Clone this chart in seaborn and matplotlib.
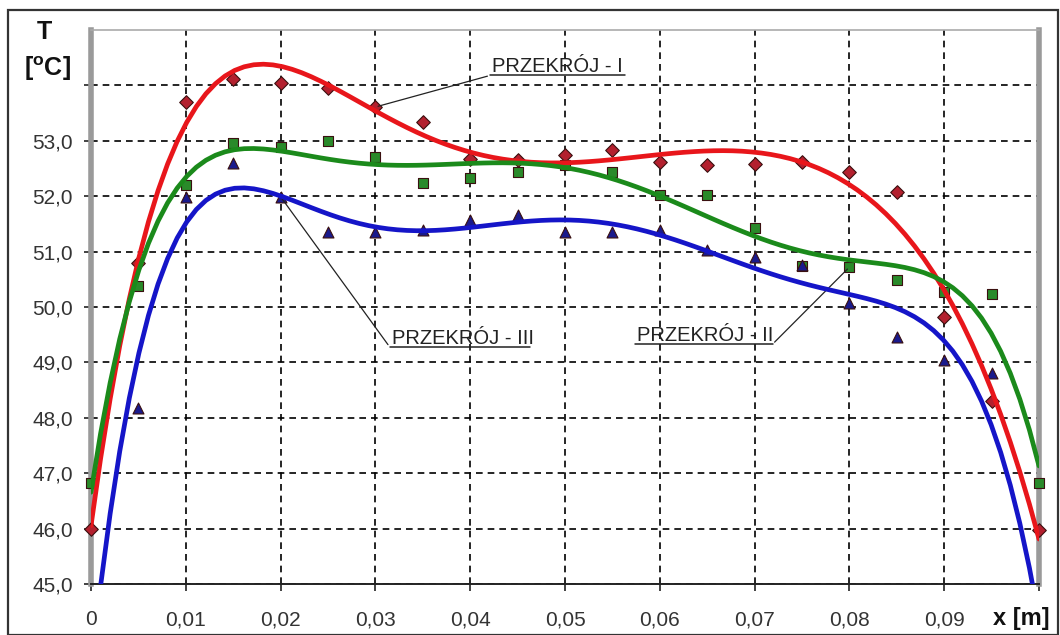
import matplotlib
matplotlib.use("Agg")
import matplotlib.pyplot as plt
from matplotlib.patches import Rectangle
import seaborn as sns
import pandas as pd

x_m = [0.0, 0.005, 0.01, 0.015, 0.02, 0.025, 0.03, 0.035, 0.04, 0.045, 0.05,
       0.055, 0.06, 0.065, 0.07, 0.075, 0.08, 0.085, 0.09, 0.095, 0.1]

t_przekroj_1 = [46.0, 50.8, 53.7, 54.12, 54.04, 53.95, 53.61, 53.34, 52.67, 52.65, 52.74,
                52.83, 52.62, 52.56, 52.58, 52.62, 52.44, 52.08, 49.82, 48.3, 45.97]
t_przekroj_2 = [46.82, 50.38, 52.2, 52.96, 52.89, 53.0, 52.71, 52.24, 52.33, 52.44, 52.56,
                52.44, 52.02, 52.02, 51.43, 50.74, 50.72, 50.49, 50.27, 50.24, 46.82]
t_przekroj_3 = [43.8, 48.18, 51.98, 52.6, 51.99, 51.35, 51.35, 51.39, 51.57, 51.66, 51.35,
                51.35, 51.39, 51.03, 50.9, 50.76, 50.07, 49.46, 49.05, 48.8, 44.0]

x_ticks = [0.0, 0.01, 0.02, 0.03, 0.04, 0.05, 0.06, 0.07, 0.08, 0.09]
x_tick_labels = ["0", "0,01", "0,02", "0,03", "0,04", "0,05", "0,06", "0,07", "0,08", "0,09"]
y_ticks = [45, 46, 47, 48, 49, 50, 51, 52, 53]
y_tick_labels = ["45,0", "46,0", "47,0", "48,0", "49,0", "50,0", "51,0", "52,0", "53,0"]

series = [
    ("PRZEKRÓJ - I", t_przekroj_1, "#e8161b", "#b3202e", "D", 48),
    ("PRZEKRÓJ - II", t_przekroj_2, "#1b8a1b", "#2a8a2a", "s", 58),
    ("PRZEKRÓJ - III", t_przekroj_3, "#1515c8", "#1a1a8c", "^", 62),
]

sns.set_style("white")
plt.rcParams["font.family"] = ["Liberation Sans", "DejaVu Sans"]
plt.rcParams["mathtext.fontset"] = "custom"
plt.rcParams["mathtext.rm"] = "Liberation Sans"
plt.rcParams["mathtext.bf"] = "Liberation Sans:bold"

fig = plt.figure(figsize=(10.6, 6.35), dpi=100)
ax = fig.add_axes([91 / 1060, 51 / 635, 948 / 1060, 554 / 635])

for name, vals, line_c, mark_c, mk, size in series:
    df = pd.DataFrame({"x": x_m, "T": vals})
    shown = df[df["T"] >= 45]
    sns.scatterplot(data=shown, x="x", y="T", marker=mk, color=mark_c, s=size,
                    edgecolor="#3a1010", linewidth=0.8, ax=ax, zorder=3, clip_on=False)
for name, vals, line_c, mark_c, mk, size in series:
    df = pd.DataFrame({"x": x_m, "T": vals})
    sns.regplot(data=df, x="x", y="T", order=6, ci=None, scatter=False,
                line_kws={"color": line_c, "lw": 3.4, "zorder": 4}, ax=ax)

ax.set_xlim(0, 0.1)
ax.set_ylim(45, 55)
ax.set_xticks(x_ticks)
ax.set_xticklabels(x_tick_labels)
ax.set_yticks(y_ticks)
ax.set_yticklabels(y_tick_labels)
ax.set_xticks([0.1], minor=True)
ax.set_yticks([54], minor=True)
ax.set_xlabel("")
ax.set_ylabel("")
ax.tick_params(axis="both", labelsize=15, labelcolor="#333333", length=5, width=1.2,
               color="#222222", which="both", direction="out", bottom=True, left=True)
ax.tick_params(axis="x", pad=14)
ax.tick_params(axis="y", pad=8)

ax.grid(True, which="both", color="black", linestyle=(0, (4, 3)), linewidth=1.2)
ax.set_axisbelow(True)

for side in ["left", "right"]:
    ax.spines[side].set_color("#9a9a9a")
    ax.spines[side].set_linewidth(4)
ax.spines["top"].set_color("#aaaaaa")
ax.spines["top"].set_linewidth(1.2)
ax.spines["bottom"].set_color("#222222")
ax.spines["bottom"].set_linewidth(1.4)

# leader labels
label_font = {"fontsize": 14.5, "color": "#222222"}
ax.annotate("", xy=(0.03, 53.61), xytext=(0.0421, 54.18),
            arrowprops={"arrowstyle": "-", "color": "#222222", "lw": 0.9})
ax.plot([0.0421, 0.0563], [54.18, 54.18], color="#222222", lw=1.1)
ax.text(0.0423, 54.24, "PRZEKRÓJ - I", **label_font)

ax.annotate("", xy=(0.02, 51.99), xytext=(0.0315, 49.28),
            arrowprops={"arrowstyle": "-", "color": "#222222", "lw": 0.9})
ax.plot([0.0315, 0.0463], [49.28, 49.28], color="#222222", lw=1.1)
ax.text(0.0317, 49.34, "PRZEKRÓJ - III", **label_font)

ax.annotate("", xy=(0.08, 50.72), xytext=(0.0719, 49.33),
            arrowprops={"arrowstyle": "-", "color": "#222222", "lw": 0.9})
ax.plot([0.0574, 0.0719], [49.33, 49.33], color="#222222", lw=1.1)
ax.text(0.0576, 49.39, "PRZEKRÓJ - II", **label_font)

# axis titles
fig.text(44 / 1060, 1 - 32 / 635, "T", fontsize=18, fontweight="bold",
         ha="center", va="center", color="#111111")
fig.text(47 / 1060, 1 - 69 / 635, r"[$\mathbf{^{o}}$C]", fontsize=18, fontweight="bold",
         ha="center", va="center", color="#111111")
fig.text(1021 / 1060, 1 - 618 / 635, "x [m]", fontsize=17, fontweight="bold",
         ha="center", va="center", color="#111111")

fig.patches.append(Rectangle((8 / 1060, 0), 1050 / 1060, 1 - 10 / 635,
                             transform=fig.transFigure, fill=False,
                             edgecolor="#333333", lw=1.6))

fig.savefig("out.png", dpi=100)
